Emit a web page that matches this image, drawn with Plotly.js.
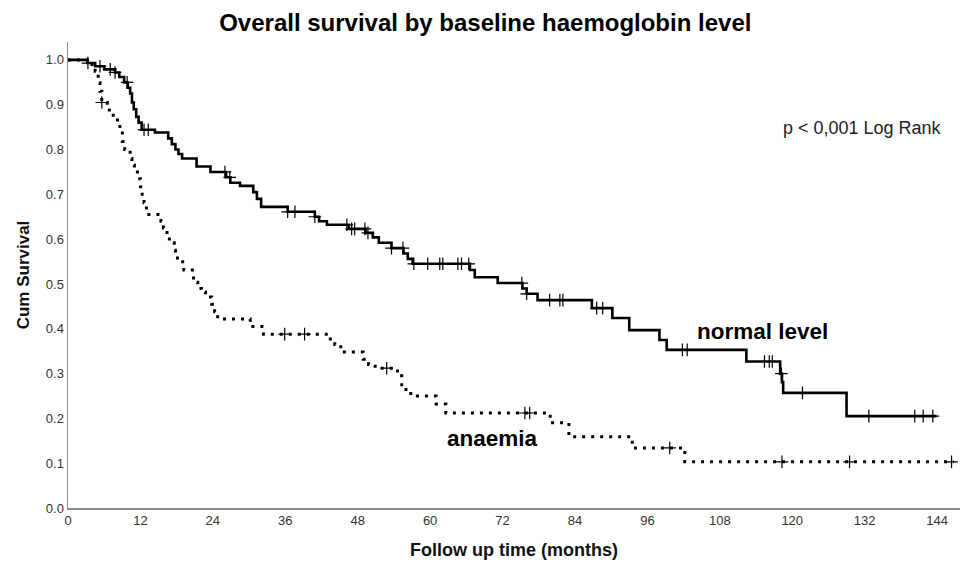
<!DOCTYPE html>
<html>
<head>
<meta charset="utf-8">
<script src="https://cdn.plot.ly/plotly-3.0.1.min.js"></script>
<style>
  html, body { margin: 0; padding: 0; background: #fff; }
  #chart { width: 961px; height: 563px; }
</style>
</head>
<body>
<div id="chart"></div>
<script>
// Kaplan-Meier steps: time of each event (months) and survival after it
var normalTimes = [0, 3.2, 4.5, 6.0, 7.8, 8.5, 9.3, 9.9, 10.3, 10.6, 10.9, 11.3, 11.7, 12.2,
  14.4, 16.6, 17.2, 17.8, 18.3, 18.9, 21.3, 23.6, 26.2, 26.9, 28.5, 30.7, 31.3, 32.0,
  36.4, 40.9, 41.6, 42.9, 46.5, 49.3, 50.5, 51.5, 53.6, 55.6, 56.3, 57.1,
  66.6, 67.4, 71.2, 75.3, 76.0, 77.8, 86.8, 90.2, 93.0, 98.0, 99.2,
  112.4, 118.0, 118.3, 118.5, 129.0, 143.9];
var normalSurv = [1.0, 0.993, 0.986, 0.979, 0.972, 0.962, 0.950, 0.938, 0.925, 0.905, 0.890, 0.873, 0.860, 0.844,
  0.838, 0.825, 0.812, 0.800, 0.790, 0.780, 0.762, 0.750, 0.738, 0.726, 0.719, 0.705, 0.690, 0.672,
  0.661, 0.650, 0.640, 0.632, 0.623, 0.614, 0.604, 0.592, 0.580, 0.568, 0.556, 0.545,
  0.531, 0.515, 0.502, 0.490, 0.478, 0.464, 0.446, 0.424, 0.397, 0.375, 0.353,
  0.327, 0.300, 0.281, 0.257, 0.205, 0.205];
var normalCensored = [3.3, 5.3, 7.0, 7.8, 9.8, 12.6, 13.3, 26.0, 26.8, 36.4, 37.6, 40.9,
  46.2, 47.0, 47.5, 49.2, 49.7, 53.6, 55.5, 57.3, 59.6, 61.6, 62.1, 64.6, 65.2, 66.4,
  75.2, 76.0, 79.8, 81.5, 82.0, 87.6, 88.6, 101.8, 102.6, 115.4, 116.2, 116.7,
  118.2, 121.7, 132.7, 140.3, 141.7, 143.3];

var anaemiaTimes = [0, 3.5, 4.5, 5.0, 5.3, 5.6, 6.5, 7.5, 8.2, 8.6, 9.0, 9.4, 10.3, 10.6,
  11.0, 11.5, 12.0, 12.3, 12.6, 13.0, 15.4, 15.8, 16.4, 16.8, 17.6, 17.8, 19.0, 19.2,
  20.6, 20.8, 21.5, 22.1, 22.8, 23.8, 24.3, 24.8, 30.2, 32.4, 43.2, 44.2, 45.2,
  48.9, 49.8, 50.9, 54.6, 55.3, 56.0, 56.8, 61.0, 62.6, 79.9, 83.0, 93.5, 102.2, 146.8];
var anaemiaSurv = [1.0, 0.99, 0.975, 0.949, 0.93, 0.905, 0.888, 0.870, 0.855, 0.837, 0.818, 0.800, 0.780, 0.765,
  0.754, 0.735, 0.717, 0.700, 0.681, 0.655, 0.640, 0.625, 0.610, 0.592, 0.575, 0.558, 0.545, 0.531,
  0.518, 0.504, 0.490, 0.482, 0.471, 0.455, 0.438, 0.422, 0.405, 0.388, 0.377, 0.365, 0.348,
  0.332, 0.320, 0.312, 0.295, 0.275, 0.260, 0.250, 0.232, 0.212, 0.190, 0.159, 0.134, 0.103, 0.103];
var anaemiaCensored = [5.6, 35.9, 39.2, 52.8, 75.7, 76.5, 99.7, 118.3, 129.5, 146.4];

var xTicks = [0, 12, 24, 36, 48, 60, 72, 84, 96, 108, 120, 132, 144];
var yTicks = [0, 0.1, 0.2, 0.3, 0.4, 0.5, 0.6, 0.7, 0.8, 0.9, 1.0];

// survival value of a step curve at time t
function survivalAt(times, surv, t) {
  var s = surv[0];
  for (var i = 0; i < times.length; i++) {
    if (times[i] <= t) s = surv[i];
  }
  return s;
}

var FONT = 'Liberation Sans, Arial, sans-serif';
var NARROW = 'Liberation Sans Narrow, Arial Narrow, Liberation Sans, Arial, sans-serif';

var traces = [
  {
    x: normalTimes, y: normalSurv, type: 'scatter', mode: 'lines',
    line: { shape: 'hv', color: '#000', width: 2.6 }, hoverinfo: 'skip'
  },
  {
    x: anaemiaTimes, y: anaemiaSurv, type: 'scatter', mode: 'lines',
    line: { shape: 'hv', color: '#000', width: 3, dash: '3px,6px' }, hoverinfo: 'skip'
  },
  {
    x: normalCensored,
    y: normalCensored.map(function (t) { return survivalAt(normalTimes, normalSurv, t); }),
    type: 'scatter', mode: 'markers',
    marker: { symbol: 'cross-thin', size: 9, color: '#000', line: { color: '#000', width: 1.2 } }
  },
  {
    x: anaemiaCensored,
    y: anaemiaCensored.map(function (t) { return survivalAt(anaemiaTimes, anaemiaSurv, t); }),
    type: 'scatter', mode: 'markers',
    marker: { symbol: 'cross-thin', size: 9, color: '#000', line: { color: '#000', width: 1.2 } }
  }
];

var layout = {
  width: 961, height: 563,
  margin: { l: 68, r: 1, t: 42, b: 55 },
  paper_bgcolor: '#fff', plot_bgcolor: '#fff',
  showlegend: false,
  font: { family: FONT, color: '#222' },
  title: {
    text: '<b>Overall survival by baseline haemoglobin level</b>',
    font: { family: FONT, size: 24, color: '#000' },
    x: 0.505, xanchor: 'center', y: 0.96, yanchor: 'middle'
  },
  xaxis: {
    range: [0, 147.8], tickvals: xTicks, ticktext: xTicks.map(String),
    showgrid: false, zeroline: false, showline: true, linecolor: '#8c8c8c', linewidth: 1.5,
    ticks: '', tickfont: { family: NARROW, size: 13, color: '#333' },
    title: { text: '<b>Follow up time (months)</b>', font: { family: FONT, size: 18, color: '#111' }, standoff: 16 }
  },
  yaxis: {
    range: [0, 1.04], tickvals: yTicks, ticktext: yTicks.map(function (v) { return v.toFixed(1); }),
    showgrid: false, zeroline: false, showline: true, linecolor: '#8c8c8c', linewidth: 1.5,
    ticks: '', tickfont: { family: NARROW, size: 13, color: '#333' },
    title: { text: '<b>Cum Survival</b>', font: { family: FONT, size: 17, color: '#111' }, standoff: 12 }
  },
  annotations: [
    { x: 115, y: 0.395, xref: 'x', yref: 'y', text: '<b>normal level</b>', showarrow: false,
      font: { family: FONT, size: 22.5, color: '#000' } },
    { x: 70.3, y: 0.156, xref: 'x', yref: 'y', text: '<b>anaemia</b>', showarrow: false,
      font: { family: FONT, size: 22.5, color: '#000' } },
    { x: 118.1, y: 0.848, xref: 'x', yref: 'y', xanchor: 'left', text: 'p < 0,001 Log Rank', showarrow: false,
      font: { family: FONT, size: 18, color: '#222' } }
  ]
};

Plotly.newPlot('chart', traces, layout, { staticPlot: true, displayModeBar: false });
</script>
</body>
</html>
